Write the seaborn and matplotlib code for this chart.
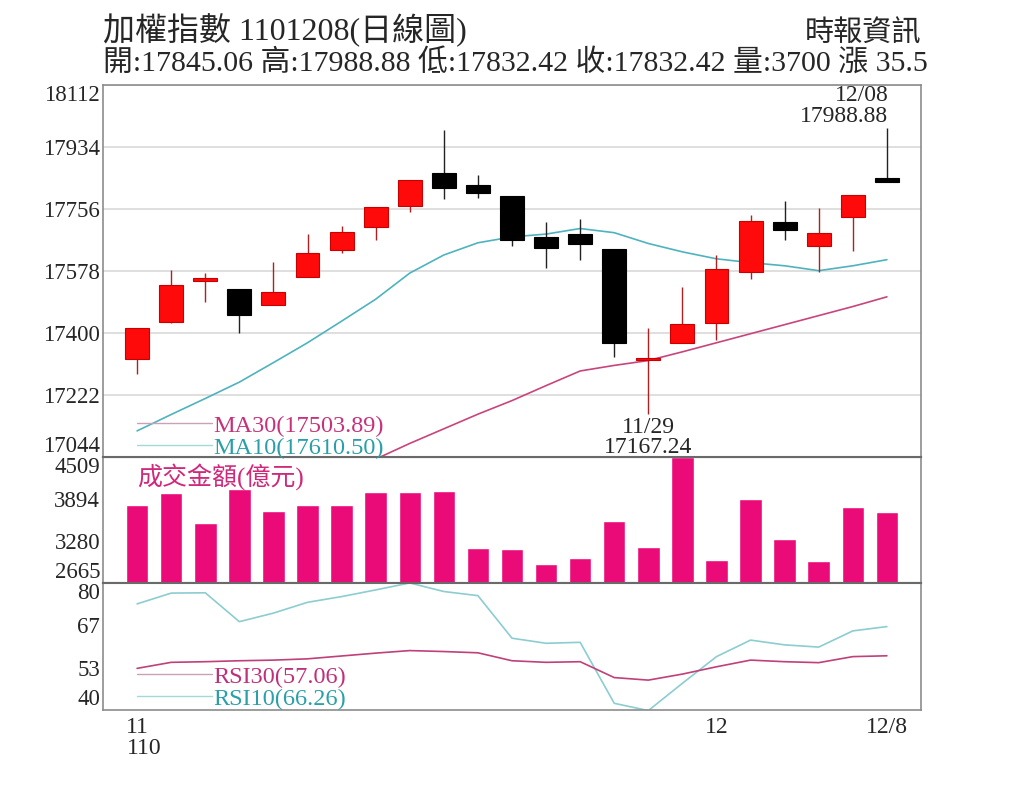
import numpy as np
import pandas as pd
import seaborn as sns
import matplotlib.pyplot as plt
from matplotlib.lines import Line2D

# 加權指數 日線 110/11/08 ~ 110/12/08
days = ['11/08', '11/09', '11/10', '11/11', '11/12', '11/15', '11/16', '11/17',
        '11/18', '11/19', '11/22', '11/23', '11/24', '11/25', '11/26', '11/29',
        '11/30', '12/01', '12/02', '12/03', '12/06', '12/07', '12/08']

opens = [17326, 17433, 17550, 17526, 17479, 17560, 17638, 17705, 17765, 17860, 17824, 17793,
         17676, 17683, 17640, 17322, 17370, 17429, 17575, 17719, 17651, 17733, 17845.06]
highs = [17415, 17581, 17573, 17526, 17605, 17684, 17707, 17762, 17838, 17983, 17855, 17793,
         17719, 17726, 17640, 17415, 17533, 17624, 17738, 17779, 17759, 17796.92, 17988.88]
lows = [17281, 17430, 17488, 17400, 17479, 17560, 17629, 17667, 17748, 17784, 17788, 17651,
        17586, 17610, 17332, 17167.24, 17370, 17379, 17555, 17667, 17576, 17636, 17832.42]
closes = [17415, 17539, 17558, 17453, 17517, 17630, 17691, 17762, 17838, 17817, 17802, 17667,
          17643, 17655, 17370, 17328, 17427, 17584, 17722, 17697, 17686, 17796.92, 17832.42]

ma10 = [17119, 17166, 17212, 17259, 17315, 17372, 17434, 17497, 17572, 17624, 17659, 17676,
        17684, 17700, 17688, 17657, 17633, 17613, 17602, 17593, 17579, 17593, 17610.50]
ma30 = [np.nan, np.nan, np.nan, np.nan, np.nan, np.nan, np.nan, 17038, 17083, 17125, 17167, 17206,
        17249, 17291, 17307, 17321, 17346, 17372, 17398, 17424, 17450, 17476, 17503.89]

volume = [3806, 3978, 3539, 4036, 3719, 3806, 3806, 4001, 4001, 4016, 3173, 3158,
          2943, 3035, 3572, 3196, 4509, 3002, 3890, 3304, 2987, 3782, 3700]

rsi10 = [73.4, 76.8, 76.9, 67.8, 70.5, 73.9, 75.7, 77.8, 80.0, 77.3, 76.0, 62.6,
         61.0, 61.3, 42.1, 39.8, 48.4, 56.8, 62.0, 60.5, 59.8, 64.9, 66.26]
rsi30 = [53.1, 55.0, 55.2, 55.5, 55.7, 56.1, 57.0, 57.9, 58.7, 58.4, 58.0, 55.5,
         55.0, 55.2, 50.2, 49.4, 51.3, 53.6, 55.7, 55.2, 54.9, 56.8, 57.06]

price_ticks = [17044, 17222, 17400, 17578, 17756, 17934, 18112]
vol_ticks = [2665, 3280, 3894, 4509]
rsi_ticks = [40, 53.33, 66.67, 80]
rsi_ticklabels = ['40', '53', '67', '80']
xtick_labels = {0: '11', 17: '12', 22: '12/8'}

# colours
UP = '#ff0a0a'
DOWN = '#000000'
MA10_C = '#4fb3bf'
MA30_C = '#c8457c'
VOL_C = '#ea0a78'
RSI10_C = '#8ccdd0'
RSI30_C = '#c0407a'
FRAME = '#8c8c8c'
SEP = '#6a6a6a'

sns.set_style('white')
plt.rcParams['font.family'] = ['Liberation Serif', 'Noto Sans CJK TC']

df = pd.DataFrame({'i': np.arange(len(days)), 'open': opens, 'high': highs, 'low': lows,
                   'close': closes, 'ma10': ma10, 'ma30': ma30, 'vol': volume,
                   'rsi10': rsi10, 'rsi30': rsi30})
up = df['close'] >= df['open']

fig = plt.figure(figsize=(10.24, 7.9), dpi=100)
L, W = 0.1006, 0.7988
ax_p = fig.add_axes([L, 0.4215, W, 0.4709])
ax_v = fig.add_axes([L, 0.2620, W, 0.1595], sharex=ax_p)
ax_r = fig.add_axes([L, 0.1013, W, 0.1608], sharex=ax_p)
ax_p.set_zorder(3)

# --- price panel
ax_p.vlines(df['i'], df['low'], df['high'], colors=np.where(up, '#b02020', '#222222'),
            lw=1.0, zorder=3)
body_lo = np.minimum(df['open'], df['close'])
body_h = np.abs(df['close'] - df['open'])
ax_p.bar(df['i'], body_h, bottom=body_lo, width=0.7,
         color=np.where(up, UP, DOWN), edgecolor=np.where(up, '#c80000', '#000000'),
         lw=0.8, zorder=4)
sns.lineplot(data=df, x='i', y='ma10', ax=ax_p, color=MA10_C, lw=1.2, legend=False, zorder=2)
sns.lineplot(data=df, x='i', y='ma30', ax=ax_p, color=MA30_C, lw=1.2, legend=False, zorder=2)

ax_p.set_ylim(price_ticks[0], price_ticks[-1])
ax_p.set_yticks(price_ticks)
ax_p.grid(axis='y', color='#dcdcdc', lw=1.3)
ax_p.set_axisbelow(True)

handles = [Line2D([], [], color='#c9a3b5', lw=1), Line2D([], [], color='#a3d8db', lw=1)]
leg = ax_p.legend(handles, [f'MA30({ma30[-1]:.2f})', f'MA10({ma10[-1]:.2f})'],
                  loc='lower left', bbox_to_anchor=(0.0416, -0.005), frameon=False,
                  fontsize=17.5, handlelength=3.1, handletextpad=0.05, labelspacing=0.0,
                  borderpad=0, borderaxespad=0)
for t, c in zip(leg.get_texts(), ['#c8317a', '#2a9fa8']):
    t.set_color(c)

ihi = len(days) - 1
ax_p.annotate(f'{days[ihi]}\n{highs[ihi]:.2f}', xy=(ihi, highs[ihi]), xytext=(1, 1),
              textcoords='offset points', ha='right', va='bottom', fontsize=17,
              linespacing=0.95, annotation_clip=False, zorder=10)
ilo = int(np.argmin(lows))
ax_p.annotate(f'{days[ilo]}\n{lows[ilo]:.2f}', xy=(ilo, lows[ilo]), xytext=(0, -2),
              textcoords='offset points', ha='center', va='top', fontsize=17,
              linespacing=0.95, annotation_clip=False, zorder=10)

# --- volume panel
sns.barplot(x=df['i'], y=df['vol'], ax=ax_v, color=VOL_C, width=0.66, saturation=1,
            errorbar=None, native_scale=True)
ax_v.set_ylim(vol_ticks[0], vol_ticks[-1])
ax_v.set_yticks(vol_ticks)
ax_v.text(0.0416, 0.955, '成交金額(億元)', transform=ax_v.transAxes, color='#d0287a',
          fontsize=18, va='top', ha='left')

# --- RSI panel
sns.lineplot(data=df, x='i', y='rsi10', ax=ax_r, color=RSI10_C, lw=1.2, legend=False)
sns.lineplot(data=df, x='i', y='rsi30', ax=ax_r, color=RSI30_C, lw=1.2, legend=False)
ax_r.set_ylim(40, 80)
ax_r.set_yticks(rsi_ticks)
ax_r.set_yticklabels(rsi_ticklabels)
handles = [Line2D([], [], color='#c9a3b5', lw=1), Line2D([], [], color='#a3d8db', lw=1)]
leg = ax_r.legend(handles, [f'RSI30({rsi30[-1]:.2f})', f'RSI10({rsi10[-1]:.2f})'],
                  loc='lower left', bbox_to_anchor=(0.0416, 0.0), frameon=False,
                  fontsize=17.5, handlelength=3.1, handletextpad=0.05, labelspacing=0.0,
                  borderpad=0, borderaxespad=0)
for t, c in zip(leg.get_texts(), ['#c0307a', '#2aa0a8']):
    t.set_color(c)

ax_r.set_xlim(-1, len(days))
ax_r.set_xticks(df['i'])
ax_r.set_xticklabels([xtick_labels.get(i, '') for i in df['i']])
ax_r.annotate('110', xy=(0, 0), xycoords=('data', 'axes fraction'), xytext=(-7.5, -20),
              textcoords='offset points', ha='left', va='top', fontsize=17)

# --- common styling
for ax in (ax_p, ax_v, ax_r):
    ax.set_xlabel('')
    ax.set_ylabel('')
    ax.tick_params(axis='y', length=0, pad=2, labelsize=16.5)
    for s in ax.spines.values():
        s.set_visible(True)
        s.set_color(FRAME)
        s.set_linewidth(1.2)
    lbls = ax.get_yticklabels()
    lbls[0].set_va('bottom')
    lbls[-1].set_va('top')
for ax in (ax_p, ax_v):
    ax.tick_params(axis='x', length=0, labelbottom=False)
ax_r.tick_params(axis='x', length=3, color=FRAME, pad=2, labelsize=17)
for s in (ax_p.spines['bottom'], ax_v.spines['top'], ax_v.spines['bottom'], ax_r.spines['top']):
    s.set_color(SEP)
    s.set_linewidth(1.5)

# --- header
fig.text(L, 0.9494, '加權指數 1101208(日線圖)', fontsize=23, ha='left', va='baseline')
fig.text(L, 0.9100,
         f'開:{opens[-1]:.2f} 高:{highs[-1]:.2f} 低:{lows[-1]:.2f} 收:{closes[-1]:.2f} '
         f'量:{volume[-1]} 漲 {closes[-1] - closes[-2]:.1f}',
         fontsize=21.5, ha='left', va='baseline')
fig.text(L + W, 0.9475, '時報資訊', fontsize=21, ha='right', va='baseline')

fig.savefig('out.png', dpi=100)
